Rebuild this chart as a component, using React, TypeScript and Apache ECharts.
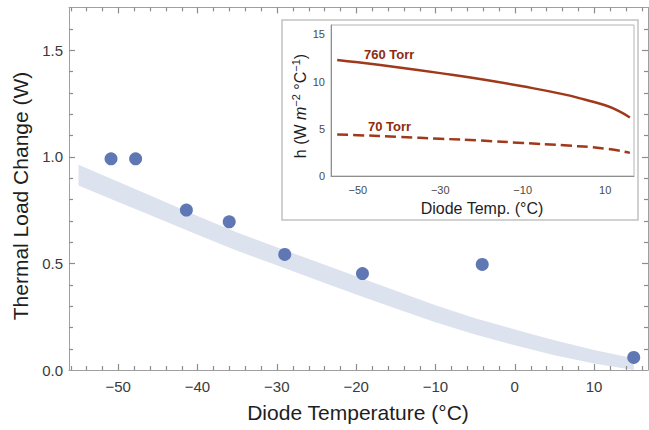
import React, { useEffect, useRef } from 'react';
import * as echarts from 'echarts';

const FONT = "'Liberation Sans', Arial, Helvetica, sans-serif";

// Main plot: measured points
const tempMeasured = [-50.9, -47.8, -41.4, -36.0, -29.0, -19.2, -4.1, 15.0];
const loadMeasured = [0.99, 0.99, 0.75, 0.695, 0.542, 0.452, 0.495, 0.059];

// Main plot: model band
const bandTemps = [-55, -50, -45, -40, -35, -30, -25, -20, -15, -10, -5, 0, 5, 10, 15];
const bandLower = [0.865, 0.788, 0.712, 0.634, 0.559, 0.491, 0.422, 0.354, 0.288, 0.224, 0.166, 0.116, 0.069, 0.03, 0.0];
const bandUpper = [0.962, 0.882, 0.803, 0.722, 0.645, 0.576, 0.507, 0.44, 0.372, 0.304, 0.243, 0.19, 0.139, 0.094, 0.055];

// Inset: heat transfer coefficient
const temps760 = [-55, -50, -40, -30, -20, -10, 0, 5, 10, 13, 16];
const h760 = [12.3, 12.05, 11.5, 10.9, 10.25, 9.5, 8.65, 8.1, 7.5, 6.95, 6.2];
const temps70 = [-55, -50, -40, -30, -20, -10, 0, 10, 16];
const h70 = [4.4, 4.33, 4.15, 3.95, 3.75, 3.5, 3.25, 2.9, 2.45];

// Frame ticks of the main plot
const xMajorTicks = [-50, -40, -30, -20, -10, 0, 10];
const xMinorTicks = [-56, -54, -52, -48, -46, -44, -42, -38, -36, -34, -32, -28, -26, -24, -22, -18, -16, -14, -12, -8, -6, -4, -2, 2, 4, 6, 8, 12, 14, 16];
const yMajorTicks = [0.5, 1.0, 1.5];
const yMinorTicks = [0.1, 0.2, 0.3, 0.4, 0.6, 0.7, 0.8, 0.9, 1.1, 1.2, 1.3, 1.4, 1.6];

const X_MIN = -56.2;
const X_MAX = 16.8;
const Y_MIN = 0;
const Y_MAX = 1.7;
const IX_MIN = -56.5;
const IX_MAX = 17;
const IY_MIN = 0;
const IY_MAX = 16;

const AXIS_COLOR = '#9f9f9f';
const TICK_COLOR = '#8c8c8c';
const LABEL_COLOR = '#3a3a3a';
const DOT_COLOR = '#5f78b3';
const BAND_COLOR = '#dde2ef';
const LINE_COLOR = '#a0381a';
const TEXT_RED = '#8c2c12';
const MAJOR_LEN = 6;
const MINOR_LEN = 4;

const minus = (v: number) => (v < 0 ? '\u2212' + Math.abs(v) : String(v));

function mainX(position: string, labels: boolean) {
  return {
    type: 'value',
    gridIndex: 0,
    position,
    min: X_MIN,
    max: X_MAX,
    splitNumber: 7,
    axisLine: { show: true, onZero: false, lineStyle: { color: AXIS_COLOR, width: 1 } },
    axisTick: { show: false },
    axisLabel: {
      show: labels,
      showMinLabel: false,
      showMaxLabel: false,
      margin: 9,
      fontSize: 15,
      fontFamily: FONT,
      color: LABEL_COLOR,
      formatter: (v: number) => minus(Math.round(v)),
    },
    splitLine: { show: false },
  };
}

function mainY(position: string, labels: boolean) {
  return {
    type: 'value',
    gridIndex: 0,
    position,
    min: Y_MIN,
    max: Y_MAX,
    splitNumber: 3,
    axisLine: { show: true, onZero: false, lineStyle: { color: AXIS_COLOR, width: 1 } },
    axisTick: { show: false },
    axisLabel: {
      show: labels,
      showMinLabel: true,
      showMaxLabel: false,
      margin: 6,
      fontSize: 15,
      fontFamily: FONT,
      color: LABEL_COLOR,
      formatter: (v: number) => v.toFixed(1),
    },
    splitLine: { show: false },
  };
}

// one custom series per frame edge and tick size; each item draws one short line
function tickSeries(values: number[], edge: 'bottom' | 'top' | 'left' | 'right', len: number) {
  const horizontalAxis = edge === 'bottom' || edge === 'top';
  return {
    type: 'custom',
    xAxisIndex: 0,
    yAxisIndex: 0,
    silent: true,
    clip: false,
    z: 4,
    data: values.map((v) => (horizontalAxis ? [v, Y_MIN] : [X_MIN, v])),
    renderItem: (params: any, api: any) => {
      const cs = params.coordSys;
      const p = api.coord([api.value(0), api.value(1)]);
      const style = { stroke: TICK_COLOR, lineWidth: 1.2 };
      if (edge === 'bottom') {
        const x = Math.round(p[0]) + 0.5;
        const y = cs.y + cs.height;
        return { type: 'line', shape: { x1: x, y1: y, x2: x, y2: y - len }, style };
      }
      if (edge === 'top') {
        const x = Math.round(p[0]) + 0.5;
        const y = cs.y;
        return { type: 'line', shape: { x1: x, y1: y, x2: x, y2: y + len }, style };
      }
      if (edge === 'left') {
        const y = Math.round(p[1]) + 0.5;
        const x = cs.x;
        return { type: 'line', shape: { x1: x, y1: y, x2: x + len, y2: y }, style };
      }
      const y = Math.round(p[1]) + 0.5;
      const x = cs.x + cs.width;
      return { type: 'line', shape: { x1: x, y1: y, x2: x - len, y2: y }, style };
    },
  };
}

export default function App() {
  const ref = useRef<HTMLDivElement>(null);

  useEffect(() => {
    if (!ref.current) return;
    const chart = echarts.init(ref.current, undefined, { renderer: 'svg' });

    const option = {
      animation: false,
      backgroundColor: '#ffffff',
      grid: [
        { left: 69, right: 1, top: 7.4, bottom: 60, containLabel: false },
        {
          left: 331, right: 15, top: 25, bottom: 254, show: true,
          borderColor: '#b5b5b5', borderWidth: 1, backgroundColor: 'transparent', z: 12,
        },
      ],
      xAxis: [
        mainX('bottom', true),
        mainX('top', false),
        {
          type: 'value', gridIndex: 1, position: 'bottom', min: IX_MIN, max: IX_MAX, splitNumber: 7,
          axisLine: { show: true, onZero: false, lineStyle: { color: '#8f8f8f' } },
          axisTick: { show: false },
          axisLabel: {
            showMinLabel: false, showMaxLabel: false, margin: 8, fontSize: 11, fontFamily: FONT, color: '#4a4a4a',
            formatter: (v: number) => {
              const r = Math.round(v);
              return (r + 50) % 20 === 0 ? minus(r) : '';
            },
          },
          splitLine: { show: false },
          z: 12,
        },
      ],
      yAxis: [
        mainY('left', true),
        mainY('right', false),
        {
          type: 'value', gridIndex: 1, position: 'left', min: IY_MIN, max: IY_MAX, splitNumber: 3,
          axisLine: { show: true, onZero: false, lineStyle: { color: '#8f8f8f' } },
          axisTick: { show: false },
          axisLabel: {
            showMaxLabel: false, margin: 6, fontSize: 11, fontFamily: FONT, color: '#4a4a4a',
            formatter: (v: number) => String(Math.round(v)),
          },
          splitLine: { show: false },
          z: 12,
        },
      ],
      series: [
        {
          type: 'custom', xAxisIndex: 0, yAxisIndex: 0, silent: true, z: 2,
          data: bandTemps.map((t, i) => [t, bandLower[i]]),
          renderItem: (params: any, api: any) => {
            if (params.dataIndex !== 0) return null;
            const top = bandTemps.map((t, i) => api.coord([t, bandUpper[i]]));
            const bottom = bandTemps.map((t, i) => api.coord([t, bandLower[i]])).reverse();
            return {
              type: 'polygon',
              shape: { points: top.concat(bottom) },
              style: { fill: BAND_COLOR, stroke: 'none' },
            };
          },
        },
        tickSeries(xMajorTicks, 'bottom', MAJOR_LEN),
        tickSeries(xMinorTicks, 'bottom', MINOR_LEN),
        tickSeries(xMajorTicks, 'top', MAJOR_LEN),
        tickSeries(xMinorTicks, 'top', MINOR_LEN),
        tickSeries(yMajorTicks, 'left', MAJOR_LEN),
        tickSeries(yMinorTicks, 'left', MINOR_LEN),
        tickSeries(yMajorTicks, 'right', MAJOR_LEN),
        tickSeries(yMinorTicks, 'right', MINOR_LEN),
        {
          type: 'scatter', xAxisIndex: 0, yAxisIndex: 0, symbolSize: 13,
          itemStyle: { color: DOT_COLOR, opacity: 1 },
          data: tempMeasured.map((t, i) => [t, loadMeasured[i]]),
          z: 5,
        },
        {
          type: 'line', xAxisIndex: 2, yAxisIndex: 2, smooth: true, symbol: 'none',
          lineStyle: { color: LINE_COLOR, width: 2.5 },
          data: temps760.map((t, i) => [t, h760[i]]),
          z: 13,
        },
        {
          type: 'line', xAxisIndex: 2, yAxisIndex: 2, smooth: true, symbol: 'none',
          lineStyle: { color: LINE_COLOR, width: 2.5, type: [11, 5] },
          data: temps70.map((t, i) => [t, h70[i]]),
          z: 13,
        },
      ],
      graphic: [
        {
          type: 'rect', z: 10, silent: true,
          shape: { x: 282, y: 20, width: 356, height: 200 },
          style: { fill: '#ffffff', stroke: '#c2c2c2', lineWidth: 1.5 },
        },
        {
          type: 'text', z: 14, x: 20, y: 196, rotation: Math.PI / 2,
          style: {
            text: 'Thermal Load Change (W)', font: `21px ${FONT}`, fill: '#1e1e1e',
            textAlign: 'center', textVerticalAlign: 'middle', align: 'center', verticalAlign: 'middle',
          },
        },
        {
          type: 'text', z: 14, x: 358, y: 412,
          style: {
            text: 'Diode Temperature (\u00B0C)', font: `21px ${FONT}`, fill: '#1e1e1e',
            textAlign: 'center', textVerticalAlign: 'middle', align: 'center', verticalAlign: 'middle',
          },
        },
        {
          type: 'text', z: 14, x: 482, y: 208,
          style: {
            text: 'Diode Temp. (\u00B0C)', font: `16px ${FONT}`, fill: '#1e1e1e',
            textAlign: 'center', textVerticalAlign: 'middle', align: 'center', verticalAlign: 'middle',
          },
        },
        {
          type: 'text', z: 14, x: 300, y: 106, rotation: Math.PI / 2,
          style: {
            text: '{a|h (W }{i|m}{s|\u22122}{a| \u00B0C}{s|\u22121}{a|)}',
            textAlign: 'center', textVerticalAlign: 'middle', align: 'center', verticalAlign: 'middle',
            rich: {
              a: { fontSize: 16, fontFamily: FONT, fill: '#1e1e1e', lineHeight: 19 },
              i: { fontSize: 16, fontFamily: FONT, fontStyle: 'italic', fill: '#1e1e1e', lineHeight: 19 },
              s: { fontSize: 11, fontFamily: FONT, fill: '#1e1e1e', verticalAlign: 'top', lineHeight: 12 },
            },
          },
        },
        {
          type: 'text', z: 14, x: 364, y: 54,
          style: {
            text: '760 Torr', font: `bold 13px ${FONT}`, fill: TEXT_RED,
            textAlign: 'left', textVerticalAlign: 'middle', align: 'left', verticalAlign: 'middle',
          },
        },
        {
          type: 'text', z: 14, x: 368, y: 126,
          style: {
            text: '70 Torr', font: `bold 13px ${FONT}`, fill: TEXT_RED,
            textAlign: 'left', textVerticalAlign: 'middle', align: 'left', verticalAlign: 'middle',
          },
        },
      ],
    };

    chart.setOption(option as any);
    return () => chart.dispose();
  }, []);

  return <div ref={ref} style={{ width: 649, height: 430, position: 'absolute', left: 0, top: 0 }} />;
}
